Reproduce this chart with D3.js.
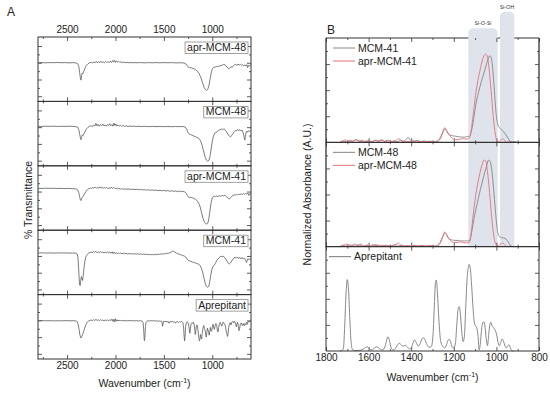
<!DOCTYPE html>
<html>
<head>
<meta charset="utf-8">
<style>
  body { margin: 0; background: #fff; }
  svg text { font-family: "Liberation Sans", Arial, sans-serif; fill: #222; }
</style>
</head>
<body>
<svg id="chart" width="550" height="393"></svg>
<script src="https://d3js.org/d3.v7.min.js"></script>
<script>
// ---------- data (wavenumber cm-1, value in % of panel height) ----------
const labelsA = ["apr-MCM-48", "MCM-48", "apr-MCM-41", "MCM-41", "Aprepitant"];

const aprMCM48_T = [[2800,60],[2760,60.4],[2720,59.8],[2680,60.3],[2640,60],[2600,60.5],[2560,60],[2520,60.3],[2480,59.8],[2440,60.2],[2410,59.8],[2390,58.5],[2378,54],[2370,45],[2362,36],[2356,33],[2350,39],[2344,44],[2336,43],[2326,47],[2314,52],[2300,56],[2284,58.5],[2266,60],[2250,60.8],[2235,59.6],[2222,61.5],[2210,60],[2198,62],[2186,59.8],[2174,61.8],[2162,60.2],[2150,62.5],[2138,60],[2126,61.5],[2114,59.8],[2102,62],[2090,60.5],[2078,61.8],[2066,60],[2054,62.5],[2042,60.5],[2030,63.5],[2020,61],[2010,64],[2000,60.5],[1990,63],[1980,61],[1968,62.5],[1956,60.5],[1944,61.5],[1930,60.2],[1915,61],[1900,60],[1880,60.6],[1860,60],[1840,60.4],[1820,59.8],[1800,60.3],[1770,60],[1740,60.3],[1700,59.8],[1660,60.2],[1620,60],[1580,60.3],[1540,59.9],[1500,60.2],[1460,60],[1420,60.2],[1380,59.8],[1340,60],[1300,59.8],[1275,58.5],[1262,56],[1250,53.5],[1235,52.5],[1215,52],[1195,51],[1175,49.5],[1155,47],[1135,43],[1115,36],[1100,29],[1085,22],[1070,18],[1058,17],[1046,19],[1034,25],[1022,35],[1010,45],[998,51],[985,53],[970,53.5],[955,54],[940,54.5],[925,55],[910,55.5],[895,56.5],[880,57.5],[868,56.5],[855,55],[842,52],[830,50.5],[818,52],[806,54],[794,53],[782,55.5],[770,57],[758,57.5],[746,56],[734,58],[722,56.5],[710,57.5],[698,56],[686,57],[674,55.5],[662,56.5],[650,55],[642,57],[634,52.5],[626,56],[616,55],[606,57],[600,56.5]];

const MCM48_T = [[2800,61.3],[2760,61],[2720,61.5],[2680,61.2],[2640,61.6],[2600,61],[2560,61.4],[2520,61.1],[2480,61.5],[2440,61.2],[2410,60.8],[2390,60],[2378,56],[2368,48],[2360,42],[2356,40.5],[2350,44],[2342,48],[2334,47],[2324,50],[2312,54],[2298,57.5],[2282,60],[2266,61.5],[2250,62],[2238,61],[2226,63.5],[2214,61.5],[2202,66],[2192,62],[2180,64.5],[2168,61.5],[2156,64],[2144,62],[2132,65],[2120,62],[2108,63.5],[2096,61.5],[2084,64],[2072,62.5],[2060,65.5],[2048,62],[2036,64],[2026,61.5],[2016,66.5],[2006,62.5],[1996,65],[1986,61.8],[1974,63.5],[1962,61.5],[1950,63],[1936,61.3],[1920,62.5],[1904,61.3],[1888,62],[1870,61],[1850,61.8],[1830,61.2],[1810,61.6],[1790,61],[1760,61.4],[1730,60.9],[1700,61.3],[1660,60.8],[1620,61.2],[1580,60.8],[1540,61.1],[1500,60.8],[1460,61],[1420,60.7],[1380,61],[1340,60.8],[1300,61],[1280,60.2],[1265,57],[1252,52],[1240,49.5],[1225,48.5],[1210,47.5],[1195,46.5],[1180,45.5],[1165,44.5],[1150,43.5],[1135,42],[1120,38.5],[1105,32],[1090,23],[1075,14],[1060,8.5],[1048,7],[1036,8],[1024,14],[1012,26],[1000,38],[988,46],[975,50.5],[962,51.5],[950,53],[935,55],[920,56],[905,57],[893,56],[880,57.5],[868,56],[856,53.5],[845,51],[834,48],[822,46],[810,45],[798,47.5],[786,50],[774,53],[762,55],[750,54],[738,56.5],[726,54.5],[714,56],[702,54],[692,55.5],[682,52],[672,45],[664,40],[656,48],[646,54],[636,52],[626,54.5],[616,53],[606,55],[600,54]];

const aprMCM41_T = [[2800,65],[2760,64.8],[2720,65.2],[2680,64.9],[2640,65.1],[2600,64.7],[2560,65],[2520,64.6],[2480,64.9],[2440,64.5],[2410,64.2],[2392,63],[2380,59],[2370,52],[2362,47],[2356,46],[2350,48.5],[2342,51],[2332,53],[2320,56],[2306,60],[2290,63],[2274,64.5],[2260,65.5],[2246,64.8],[2234,66.5],[2222,65],[2210,67],[2198,65.2],[2186,66.8],[2174,65],[2162,67.5],[2150,65.5],[2138,66.5],[2126,64.8],[2114,66.8],[2102,65],[2090,66.5],[2078,64.5],[2066,66],[2054,64.8],[2042,67],[2030,64.8],[2018,66.5],[2006,64.5],[1994,65.5],[1980,64],[1965,65],[1950,63.8],[1935,64.5],[1920,63.5],[1900,64.2],[1880,63.5],[1860,64],[1840,63.2],[1820,63.8],[1800,63],[1780,63.6],[1760,62.8],[1740,63.4],[1720,62.5],[1700,63],[1680,62.2],[1660,62.8],[1640,62],[1620,62.6],[1600,61.8],[1580,62.3],[1560,61.5],[1540,62],[1520,61.2],[1500,61.8],[1480,60.8],[1460,61.6],[1440,60.5],[1420,61.2],[1400,60.2],[1380,61],[1360,60],[1340,60.8],[1320,59.8],[1300,60.2],[1285,59.5],[1270,57.5],[1258,54],[1245,51.5],[1230,51],[1215,50.5],[1200,50],[1185,49],[1170,47.5],[1155,45.5],[1140,42],[1125,36],[1110,27],[1095,18],[1080,12],[1068,10],[1056,9.6],[1046,11],[1036,17],[1024,30],[1012,43],[1000,50],[990,52],[978,52.8],[966,52.3],[954,53],[942,52.5],[930,53.5],[918,52.8],[906,53.5],[894,54],[882,53],[870,54.5],[858,52.5],[846,51],[834,49.5],[822,48.5],[810,50.5],[798,52.5],[786,54],[774,55],[762,54.5],[750,55.5],[738,55],[726,56],[714,55.2],[702,56.5],[690,55.5],[678,56.8],[666,55.8],[654,57],[642,56],[632,57.5],[622,54],[612,57],[600,57]];

const MCM41_T = [[2800,64.6],[2760,64.9],[2720,64.5],[2680,64.8],[2640,64.4],[2600,64.7],[2560,64.5],[2520,64.8],[2480,64.4],[2440,64.6],[2410,64.3],[2395,63],[2388,58],[2382,45],[2376,28],[2370,15],[2364,14],[2358,22],[2352,28],[2346,24],[2340,22],[2334,28],[2326,40],[2316,52],[2304,59],[2290,62.5],[2276,64.5],[2262,65.5],[2250,66],[2238,65],[2226,67],[2214,65.5],[2202,67.2],[2190,65],[2178,66.5],[2166,64.8],[2154,66.8],[2142,65.2],[2130,66.2],[2118,64.6],[2106,66],[2094,64.5],[2082,66.5],[2070,64.8],[2058,65.8],[2046,64.2],[2034,66.5],[2024,63.5],[2014,66],[2004,63.8],[1994,65.2],[1982,63.5],[1970,64.8],[1958,63.6],[1946,64.5],[1934,63.2],[1920,64.2],[1905,63.5],[1890,64],[1875,63.2],[1860,63.8],[1845,63],[1830,63.6],[1815,63],[1800,63.5],[1785,62.8],[1770,63.4],[1755,62.6],[1740,63.2],[1725,62.4],[1710,63],[1695,62.2],[1680,62.8],[1665,62],[1650,62.6],[1635,61.8],[1620,62.5],[1605,61.8],[1590,62.6],[1575,62],[1560,63],[1545,62.4],[1530,63.2],[1515,62.8],[1500,63.6],[1485,63.2],[1470,64.2],[1455,64],[1440,65],[1425,66],[1410,67.5],[1398,67],[1386,66],[1372,64.5],[1358,63.5],[1344,63],[1330,62],[1316,61.5],[1300,60.5],[1285,59.5],[1272,58],[1260,55],[1250,53.5],[1235,52.5],[1220,51.5],[1205,50.5],[1190,50],[1175,49],[1160,48.2],[1145,47.5],[1130,46],[1115,42],[1100,35],[1086,26],[1072,17],[1060,12.5],[1048,11.4],[1036,13],[1026,20],[1016,30],[1004,39],[992,44],[980,45.5],[968,48.5],[956,52],[944,55],[932,57],[920,58.5],[908,59.5],[896,59],[884,59.5],[872,57],[860,55],[848,52],[836,49],[824,47.5],[812,49],[800,52],[788,55],[776,57],[764,58],[752,56.5],[740,58.5],[728,56],[716,58],[704,55.5],[692,57.5],[680,55],[668,57],[656,54.5],[648,50],[640,52.5],[630,56],[620,54],[610,55.5],[600,55]];

const aprepitant_T = [[2800,59.5],[2760,59.8],[2720,59.3],[2680,59.6],[2640,59.2],[2600,59.5],[2560,59.2],[2520,59.6],[2480,59.3],[2440,59.5],[2410,59.2],[2395,58],[2385,54],[2376,46],[2368,38],[2360,33.5],[2354,32.6],[2348,35],[2340,38],[2330,42],[2318,48],[2304,54],[2290,57.5],[2276,59],[2262,60],[2250,60.5],[2238,59.5],[2226,61],[2214,59.8],[2202,61.5],[2190,60],[2178,60.8],[2166,59.5],[2154,61.2],[2142,59.8],[2130,60.6],[2118,59.2],[2106,60.8],[2094,59.5],[2082,60.5],[2070,59.2],[2058,61],[2046,59.6],[2036,62],[2026,58.5],[2018,61.5],[2010,57.5],[2002,62.5],[1994,58.5],[1986,61],[1976,59],[1964,60.2],[1950,59.4],[1935,60],[1920,59.3],[1900,59.7],[1880,59.2],[1860,59.6],[1840,59.3],[1820,59.6],[1800,59.2],[1780,59.5],[1760,59.1],[1740,59.4],[1725,59],[1715,57],[1708,45],[1703,30],[1700,28.4],[1696,34],[1690,50],[1684,57],[1676,58.5],[1664,59.5],[1650,59],[1636,59.6],[1620,59],[1606,59.8],[1592,58.8],[1578,59.4],[1562,58.5],[1548,59.2],[1534,58.6],[1524,58.8],[1518,56],[1513,50.8],[1508,55],[1502,58.5],[1490,58],[1478,58.8],[1466,57.5],[1456,58.5],[1446,55.5],[1438,58],[1426,57.8],[1414,58.5],[1402,57],[1392,58],[1380,55.5],[1370,57.5],[1358,58.2],[1348,56.5],[1338,58],[1326,57.5],[1314,58.3],[1304,56.5],[1296,48],[1290,34],[1286,28],[1282,33],[1276,50],[1268,56.5],[1258,57.8],[1248,55.5],[1240,50],[1235,42],[1231,40],[1226,47],[1218,55],[1210,56.5],[1202,55],[1194,57],[1186,53],[1180,44],[1176,38],[1172,40],[1166,50],[1158,53],[1150,48],[1144,40],[1138,32],[1133,28],[1128,30],[1122,38],[1116,34],[1110,31],[1104,40],[1096,48],[1088,52],[1080,47],[1072,43],[1066,36],[1062,34],[1056,41],[1050,48],[1044,45],[1038,41],[1032,37],[1026,42],[1020,49],[1012,44],[1006,43],[1000,50],[992,54],[984,48],[978,46],[970,52],[962,55],[954,52],[946,43],[940,42],[934,49],[926,55],[918,57],[910,54],[902,51],[894,55],[886,57.5],[876,55],[866,52],[858,45],[850,40],[844,35],[838,38],[830,49],[822,55],[814,56.5],[806,53],[798,57],[788,58.5],[778,56],[770,58.5],[760,56],[752,50],[746,54],[738,57],[730,50],[724,44],[718,47],[710,54],[700,56],[690,52],[680,55],[670,51.5],[662,55],[654,53],[646,57],[638,54],[630,58],[620,57.5],[610,59],[600,58]];

// absorbance (panel B)
const MCM41_A = [[1735,0],[1720,1.5],[1705,0.5],[1690,2],[1675,1],[1660,2.5],[1645,1],[1630,2],[1615,0.5],[1600,1.5],[1585,0.5],[1570,2],[1555,1],[1540,2.5],[1525,1],[1510,2],[1495,0.5],[1480,1.5],[1465,0.5],[1450,2],[1435,1],[1415,4.5],[1400,1.5],[1385,1],[1370,2],[1355,0.5],[1340,1.5],[1325,0.5],[1310,1],[1290,0.5],[1275,1],[1262,4],[1250,10],[1243,13],[1235,11.5],[1225,8],[1210,6.5],[1195,6],[1180,5.5],[1165,5],[1150,5],[1135,5.5],[1125,6],[1115,13],[1105,25],[1095,38],[1085,47],[1075,55],[1065,62],[1055,69],[1045,76],[1035,82],[1030,83],[1023,80],[1015,65],[1008,45],[1000,25],[993,17],[985,14],[975,12],[965,10],[955,7],[945,4],[935,1],[925,0.5],[915,0.8],[905,0]];
const aprMCM41_A = [[1735,0],[1720,1],[1710,2.5],[1700,1],[1685,0.5],[1670,1.5],[1655,2.5],[1640,1],[1625,0.5],[1610,1.5],[1595,0.5],[1580,1],[1565,2],[1550,1],[1535,2],[1520,0.5],[1505,1.5],[1490,0.5],[1475,1],[1460,3.5],[1450,2],[1435,0.5],[1420,1],[1405,0.5],[1390,1.5],[1375,0.5],[1360,1],[1340,0.5],[1320,1],[1300,0.5],[1280,1],[1265,4],[1252,10],[1243,14],[1235,12],[1225,8],[1212,5],[1200,3],[1185,2.5],[1170,3],[1155,3.5],[1140,3],[1128,4],[1118,12],[1108,28],[1098,45],[1088,58],[1078,68],[1068,77],[1058,83],[1050,84.5],[1042,82],[1035,72],[1025,50],[1015,25],[1005,8],[997,1],[990,0.5],[980,2],[970,3.5],[962,2],[952,0],[940,0.5],[925,0]];
const MCM48_A = [[1735,0],[1722,1.5],[1708,0.5],[1694,2],[1680,1],[1665,2.5],[1650,1],[1636,2.5],[1622,0.5],[1608,1.5],[1594,0.5],[1580,2],[1565,1],[1550,1.5],[1535,0.5],[1520,1.5],[1505,0.5],[1490,1],[1475,2],[1460,0.5],[1445,1.5],[1430,0.5],[1415,1],[1400,0.5],[1385,1.5],[1370,0.5],[1350,1],[1330,0.5],[1310,1],[1290,0.5],[1275,1],[1262,4],[1250,10],[1242,13],[1234,11.5],[1224,8],[1210,6.5],[1195,6],[1180,6],[1165,5.5],[1150,5.5],[1137,5.5],[1125,6],[1115,15],[1105,27],[1095,37],[1085,46],[1075,55],[1065,63],[1055,71],[1045,78],[1037,83],[1030,82],[1022,74],[1013,55],[1005,35],[998,20],[990,11],[980,9],[970,8.5],[960,8],[950,6],[940,3],[932,0.5],[920,0]];
const aprMCM48_A = [[1735,0],[1720,1],[1706,2.5],[1692,0.5],[1678,1.5],[1664,0.5],[1650,2],[1636,1],[1622,0.5],[1608,1.5],[1594,0.5],[1580,1],[1565,2],[1550,0.5],[1535,1.5],[1520,0.5],[1505,1],[1490,0.5],[1475,1.5],[1462,3.5],[1450,1.5],[1435,0.5],[1420,1],[1405,0.5],[1390,1],[1370,0.5],[1350,1],[1330,0.5],[1310,1],[1290,0.5],[1277,1],[1265,4],[1252,10],[1243,14],[1235,12],[1225,8],[1212,5],[1200,4],[1185,4],[1170,4.5],[1155,4],[1140,3.5],[1128,4],[1118,14],[1108,32],[1098,48],[1088,60],[1078,70],[1068,78],[1058,83],[1050,82],[1042,72],[1032,52],[1022,28],[1012,10],[1002,2],[992,0.5],[980,2.5],[970,3.5],[960,1.5],[950,0],[935,0.5],[920,0]];
const aprepitant_A = [[1735,0],[1725,0.5],[1718,3],[1712,25],[1706,55],[1700,68.5],[1694,58],[1688,30],[1682,8],[1676,1.5],[1665,0.5],[1650,0.5],[1635,1],[1620,2.5],[1608,4],[1596,2],[1585,1],[1575,2.5],[1563,4],[1550,2.5],[1538,1],[1528,2],[1518,8],[1510,13.5],[1502,10],[1494,3],[1485,1],[1475,2],[1465,5.5],[1456,7.5],[1447,6],[1438,4.5],[1428,5.5],[1418,4],[1408,2],[1400,3],[1392,7.5],[1384,10.5],[1376,8],[1368,5],[1360,6],[1352,10.5],[1344,12.8],[1336,11],[1326,6],[1316,3.5],[1306,4],[1298,14],[1292,40],[1286,66],[1282,68],[1277,56],[1270,30],[1262,10],[1252,4.5],[1242,3],[1234,6],[1228,10],[1222,11.2],[1215,9],[1208,4],[1200,3],[1192,8],[1186,25],[1180,40],[1174,42.5],[1168,33],[1162,17],[1156,9],[1150,15],[1144,42],[1138,68],[1132,80],[1128,83],[1122,78],[1116,62],[1110,42],[1104,28],[1098,24],[1092,22],[1086,14],[1081,1],[1076,6],[1070,20],[1064,27],[1059,28],[1054,24],[1048,12],[1042,5],[1036,16],[1030,26],[1026,27.5],[1020,24],[1012,22],[1004,19],[998,15],[992,8],[986,5],[980,8],[973,11.5],[966,9],[960,5],[954,3],[947,5],[940,5.8],[934,3],[928,0.5],[920,0]];

const seriesA = [aprMCM48_T, MCM48_T, aprMCM41_T, MCM41_T, aprepitant_T];
const panelsB = [
  [{name: "MCM-41", data: MCM41_A, color: "#858585"}, {name: "apr-MCM-41", data: aprMCM41_A, color: "#e5707c"}],
  [{name: "MCM-48", data: MCM48_A, color: "#858585"}, {name: "apr-MCM-48", data: aprMCM48_A, color: "#e5707c"}],
  [{name: "Aprepitant", data: aprepitant_A, color: "#7a7a7a"}]
];

const ticksA = [2500, 2000, 1500, 1000];
const minorA = [2750, 2250, 1750, 1250, 750];
const ticksB = [1800, 1600, 1400, 1200, 1000, 800];
const minorB = [1700, 1500, 1300, 1100, 900];
const bands = [{name: "Si-O-Si", from: 1132, to: 994}, {name: "Si-OH", from: 983, to: 916}];

// ---------- layout ----------
const svg = d3.select("#chart");
const A = {left: 38, right: 251, top: 37, bottom: 359};
const B = {left: 326, right: 539, top: 38, bottom: 351};
const hA = (A.bottom - A.top) / 5;
const hB = (B.bottom - B.top) / 3;

const xA = d3.scaleLinear().domain([2800, 600]).range([A.left, A.right]);
const xB = d3.scaleLinear().domain([1800, 800]).range([B.left, B.right]);

const frameColor = "#333";
const fmt = d3.format("d");

// inward ticks on all four sides of a panel
function panelTicks(x, y, y0, y1, x0, x1, xMaj, xMin, yMaj, yMin) {
  const g = svg.append("g").attr("class", "ticks");
  const put = (axis, tx, ty) => {
    const a = g.append("g").attr("transform", `translate(${tx},${ty})`).call(axis);
    a.select(".domain").remove();
    a.selectAll("line").attr("stroke", frameColor).attr("stroke-width", 0.8);
    a.selectAll("text").remove();
  };
  [[xMaj, 4], [xMin, 2]].forEach(([vals, len]) => {
    put(d3.axisTop(x).tickValues(vals).tickSize(-len), 0, y0);
    put(d3.axisBottom(x).tickValues(vals).tickSize(-len), 0, y1);
  });
  [[yMaj, 4], [yMin, 2]].forEach(([vals, len]) => {
    put(d3.axisLeft(y).tickValues(vals).tickSize(-len), x0, 0);
    put(d3.axisRight(y).tickValues(vals).tickSize(-len), x1, 0);
  });
}

function tickLabels(axis, ty) {
  svg.append("g").attr("transform", `translate(0,${ty})`)
    .call(axis.tickSize(0).tickPadding(0).tickFormat(fmt))
    .call(g => g.select(".domain").remove())
    .selectAll("text").attr("font-size", 10)
    .attr("font-family", "Liberation Sans, Arial, sans-serif").attr("fill", "#222");
}

// ---------- panel A ----------
seriesA.forEach((data, i) => {
  const y0 = A.top + i * hA, y1 = y0 + hA;
  const y = d3.scaleLinear().domain([0, 100]).range([y1, y0]);
  svg.append("rect").attr("x", A.left).attr("y", y0).attr("width", A.right - A.left).attr("height", hA)
    .attr("fill", "none").attr("stroke", frameColor).attr("stroke-width", 1);
  panelTicks(xA, y, y0, y1, A.left, A.right, ticksA, minorA, [8, 34, 60, 86], [21, 47, 73]);
  svg.append("path").datum(data)
    .attr("fill", "none").attr("stroke", "#5a5a5a").attr("stroke-width", 0.8)
    .attr("d", d3.line().x(d => xA(d[0])).y(d => y(d[1])));
  const box = svg.append("rect");
  const t = svg.append("text").attr("x", A.right - 5).attr("y", y0 + 14)
    .attr("text-anchor", "end").attr("font-size", 10.5).text(labelsA[i]);
  const w = t.node().getComputedTextLength();
  box.attr("x", A.right - 7 - w).attr("y", y0 + 5).attr("width", w + 4).attr("height", 11.5)
    .attr("fill", "#fff").attr("stroke", "#8a8a8a").attr("stroke-width", 0.8);
});

tickLabels(d3.axisTop(xA).tickValues(ticksA), A.top - 4);
tickLabels(d3.axisBottom(xA).tickValues(ticksA), A.bottom + 3);

// ---------- panel B ----------
// top border first, shaded bands drawn over it
svg.append("line").attr("x1", B.left).attr("x2", B.right).attr("y1", B.top).attr("y2", B.top)
  .attr("stroke", frameColor).attr("stroke-width", 1);

const bandTops = [28.3, 11.7];
bands.forEach((b, i) => {
  const x0 = xB(b.from), x1 = xB(b.to), top = bandTops[i], bot = B.top + 2 * hB, r = 5;
  const p = d3.path();
  p.moveTo(x0, bot); p.lineTo(x0, top + r);
  p.arcTo(x0, top, x0 + r, top, r); p.lineTo(x1 - r, top);
  p.arcTo(x1, top, x1, top + r, r); p.lineTo(x1, bot); p.closePath();
  svg.append("path").attr("d", p.toString()).attr("fill", "#dfe3ec");
  svg.append("text").attr("x", (x0 + x1) / 2).attr("y", top - 3)
    .attr("text-anchor", "middle").attr("font-size", 5.5)
    .style("font-family", "'Open Sans', 'DejaVu Sans', sans-serif").text(b.name);
});

panelsB.forEach((series, i) => {
  const y0 = B.top + i * hB, y1 = y0 + hB;
  const y = d3.scaleLinear().domain([0, 100]).range([y1, y0]);
  panelTicks(xB, y, y0, y1, B.left, B.right, ticksB, minorB, [25, 50, 75], [12.5, 37.5, 62.5, 87.5]);
  series.forEach(s => {
    svg.append("path").datum(s.data)
      .attr("fill", "none").attr("stroke", s.color).attr("stroke-width", 0.9)
      .attr("d", d3.line().curve(d3.curveMonotoneX).x(d => xB(d[0])).y(d => y(d[1])));
  });
  // frame (left, right, bottom)
  svg.append("path")
    .attr("d", `M${B.left},${y0}V${y1}H${B.right}V${y0}`)
    .attr("fill", "none").attr("stroke", frameColor).attr("stroke-width", i < 2 ? 1.3 : 1);
  // legend
  const lx0 = i === 2 ? B.left + 3 : B.left + 7;
  series.forEach((s, j) => {
    const ly = y0 + 10 + j * 13;
    svg.append("line").attr("x1", lx0).attr("x2", lx0 + 22).attr("y1", ly).attr("y2", ly)
      .attr("stroke", s.color).attr("stroke-width", 1);
    svg.append("text").attr("x", lx0 + 25).attr("y", ly + 3.8).attr("font-size", 10.5).text(s.name);
  });
});

tickLabels(d3.axisBottom(xB).tickValues(ticksB), B.bottom + 3);

// ---------- titles ----------
function wavTitle(cx, yb) {
  const t = svg.append("text").attr("x", cx).attr("y", yb).attr("text-anchor", "middle").attr("font-size", 10.5);
  t.append("tspan").text("Wavenumber (cm");
  t.append("tspan").attr("dy", -4).attr("font-size", 7).text("-1");
  t.append("tspan").attr("dy", 4).text(")");
}
wavTitle((A.left + A.right) / 2, 387);
wavTitle((B.left + B.right) / 2, 381);

svg.append("text").attr("transform", "translate(32,200) rotate(-90)")
  .attr("text-anchor", "middle").attr("font-size", 10.5).text("% Transmittance");
svg.append("text").attr("transform", `translate(311,${(B.top + B.bottom) / 2}) rotate(-90)`)
  .attr("text-anchor", "middle").attr("font-size", 10.5).text("Normalized Absorbance (A.U.)");

svg.append("text").attr("x", 7).attr("y", 16).attr("font-size", 12).text("A");
svg.append("text").attr("x", 327).attr("y", 34).attr("font-size", 12).text("B");
</script>
</body>
</html>
